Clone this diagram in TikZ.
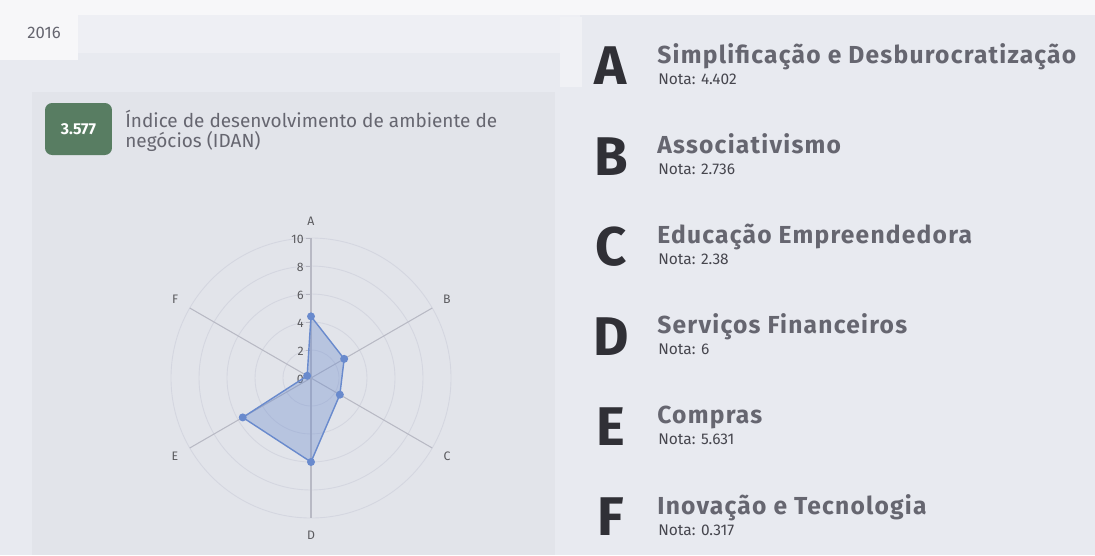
\documentclass[tikz,border=0pt]{standalone}
\usepackage{fontspec}
\setmainfont{Fira Sans}
\newfontfamily\pillarfont[LetterSpace=5]{Fira Sans}
\usetikzlibrary{positioning}

\definecolor{pagebg}{RGB}{232,234,240}
\definecolor{panelbg}{RGB}{226,228,234}
\definecolor{bandbg}{RGB}{238,239,244}
\definecolor{tabbg}{RGB}{247,247,249}
\definecolor{patchbg}{RGB}{240,241,245}
\definecolor{idangreen}{RGB}{88,125,98}
\definecolor{softgrey}{RGB}{102,102,112}
\definecolor{darkletter}{RGB}{48,48,54}
\definecolor{notagrey}{RGB}{70,70,78}
\definecolor{ringgrey}{RGB}{212,214,224}
\definecolor{axisgrey}{RGB}{184,185,196}
\definecolor{spiderblue}{RGB}{105,138,205}

\begin{document}
\begin{tikzpicture}[x=0.02cm, y=-0.02cm,
    bigletter/.style={font=\fontsize{31}{31}\selectfont\bfseries, text=darkletter, inner sep=0pt},
    itemtitle/.style={font=\pillarfont\fontsize{14}{15}\selectfont\bfseries, text=softgrey, inner sep=0pt, anchor=base west},
    nota/.style={font=\fontsize{8.8}{9}\selectfont, text=notagrey, inner sep=0pt, anchor=base west},
    axislbl/.style={font=\fontsize{7}{7}\selectfont, text=darkletter!80, inner sep=0pt},
    ticklbl/.style={font=\fontsize{7}{7}\selectfont, text=darkletter!80, inner sep=0pt, anchor=east},
    dot/.style={circle, fill=spiderblue, inner sep=0pt, minimum size=1.6mm},
    ]
    % backgrounds
    \fill[pagebg] (0,0) rectangle (1095,555);
    \fill[tabbg] (0,0) rectangle (1095,15);
    \fill[tabbg] (0,15) rectangle (78,60);
    \fill[bandbg] (78,15) rectangle (580,53);
    \fill[patchbg] (560,17) rectangle (582,87);
    \fill[panelbg] (32,92) rectangle (555,555);

    \node[font=\fontsize{9.5}{10}\selectfont, text=softgrey, inner sep=0pt, anchor=base west] (year) at (27,38) {2016};

    % IDAN score and title
    \node[fill=idangreen, rounded corners=4pt, minimum width=1.34cm, minimum height=1.04cm, inner sep=0pt,
      text=white, font=\fontsize{9}{10}\selectfont\bfseries] (score) at (78.5,129) {3.577};
    \node[font=\fontsize{10.8}{11.4}\selectfont, text=softgrey, align=left, inner sep=0pt, anchor=north west]
      (idan) at (125,110) {Índice de desenvolvimento de ambiente de\\negócios (IDAN)};

    % radar chart
    \begin{scope}[shift={(311,378)}]
      \foreach \r in {2,4,...,10}
        \draw[ringgrey, line width=0.5pt] (0,0) circle ({14*\r});
      \foreach \a/\l in {-90/A,-30/B,30/C,90/D,150/E,210/F} {
        \draw[axisgrey, line width=0.6pt] (0,0) -- (\a:140);
        \node[axislbl] (ax\l) at (\a:157) {\l};
      }
      \foreach \v in {0,2,...,10} {
        \draw[axisgrey, line width=0.5pt] (-5,{-14*\v}) -- (0,{-14*\v});
        \node[ticklbl] (tick\v) at (-7,{-14*\v+1}) {\v};
      }
      \coordinate (pA) at (-90:{14*4.402});
      \coordinate (pB) at (-30:{14*2.736});
      \coordinate (pC) at (30:{14*2.38});
      \coordinate (pD) at (90:{14*6});
      \coordinate (pE) at (150:{14*5.631});
      \coordinate (pF) at (210:{14*0.317});
      \draw[spiderblue, line width=0.8pt, fill=spiderblue, fill opacity=0.35]
        (pA) -- (pB) -- (pC) -- (pD) -- (pE) -- (pF) -- cycle;
      \foreach \p in {A,B,C,D,E,F}
        \node[dot] (d\p) at (p\p) {};
    \end{scope}

    % legend of the six pillars
    \foreach \k/\t/\n [count=\i from 0] in {A/{Simplificação e Desburocratização}/4.402,
        B/Associativismo/2.736, C/{Educação Empreendedora}/2.38, D/{Serviços Financeiros}/6,
        E/Compras/5.631, F/{Inovação e Tecnologia}/0.317} {
      \node[bigletter] (let\k) at (611,{66+90.2*\i}) {\k};
      \node[itemtitle] (name\k) at (657,{63+90.2*\i}) {\t};
      \node[nota] (nota\k) at (658,{84+90.2*\i}) {Nota: \n};
    }
\end{tikzpicture}
\end{document}
